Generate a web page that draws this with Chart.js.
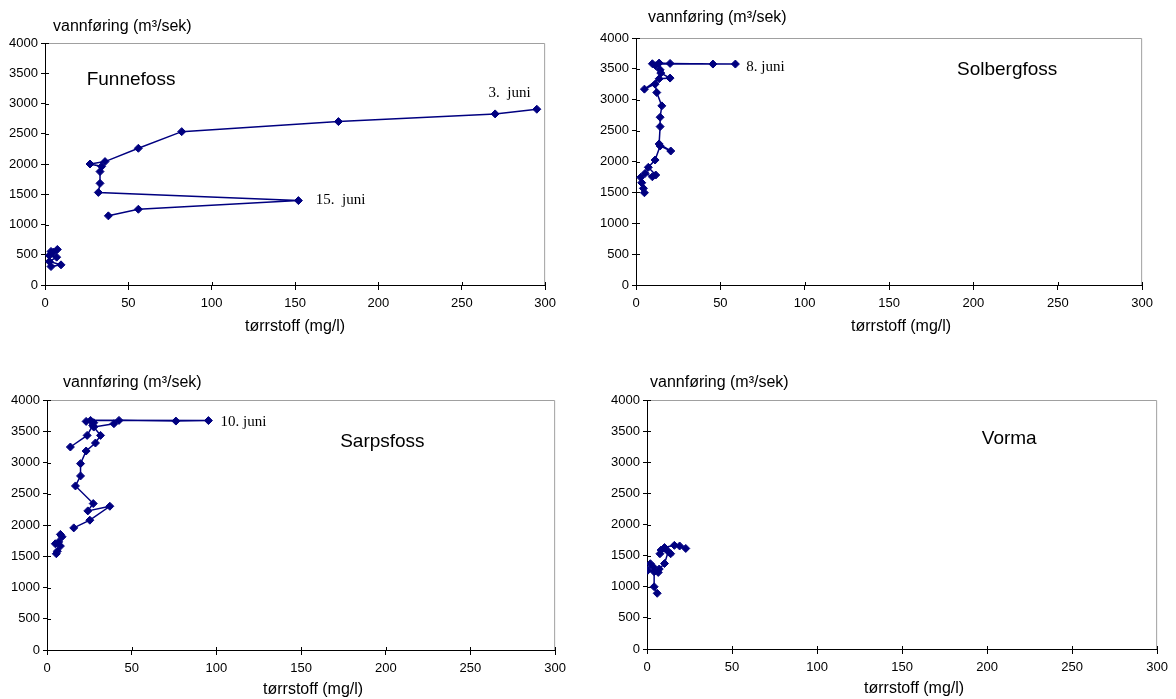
<!DOCTYPE html>
<html><head><meta charset="utf-8">
<script src="https://cdn.jsdelivr.net/npm/chart.js@4.4.1/dist/chart.umd.min.js"></script>
<style>
html,body{margin:0;padding:0;background:#fff;overflow:hidden;width:1176px;height:699px;}
canvas{position:absolute;}
</style></head><body>
<canvas id="c1"></canvas><canvas id="c2"></canvas><canvas id="c3"></canvas><canvas id="c4"></canvas>
<script>
// ---- tick labels / titles ----
const xTickValues = [0, 50, 100, 150, 200, 250, 300];
const yTickValues = [0, 500, 1000, 1500, 2000, 2500, 3000, 3500, 4000];
const xAxisTitle = 'tørrstoff (mg/l)';
const yAxisTitle = 'vannføring (m³/sek)';

// ---- Funnefoss ----
const funnefossX = [295, 270, 176, 82, 56, 36, 27, 34, 33, 33, 32, 152, 56, 38];
const funnefossY = [2905, 2828, 2701, 2535, 2260, 2040, 2000, 1960, 1875, 1680, 1530, 1395, 1252, 1143];
const funnefossLowX = [7.4, 3.6, 5, 2.6, 7, 2.6, 9.6, 3.6];
const funnefossLowY = [588, 555, 543, 488, 460, 388, 333, 305];

// ---- Solbergfoss ----
const solbergX = [5, 4.4, 3.4, 2.8, 5.4, 9.7, 11.7, 7.3, 11.3, 14.3, 20.6, 13.7, 14.3, 14.3, 15.3, 12.3, 11.3, 5, 13.7, 20.2, 14.7, 14.3, 13.7, 20.2, 45.6, 58.9, 9.7, 11.7];
const solbergY = [1494, 1565, 1656, 1743, 1808, 1753, 1781, 1906, 2024, 2252, 2170, 2284, 2565, 2717, 2901, 3117, 3253, 3172, 3339, 3351, 3432, 3485, 3594, 3588, 3578, 3578, 3583, 3550];

// ---- Sarpsfoss ----
const sarpsX = [15.8, 25.3, 37.1, 24.1, 27.3, 16.8, 19.8, 19.8, 23.1, 28.6, 31.6, 27.6, 39.5, 42.5, 76.1, 95.3, 25.7, 23.1, 27.6, 27, 23.7, 13.8];
const sarpsY = [1954, 2077, 2300, 2226, 2343, 2625, 2785, 2982, 3184, 3312, 3434, 3567, 3621, 3674, 3663, 3671, 3674, 3658, 3637, 3594, 3434, 3248];
const sarpsLowX = [5.5, 6.1, 7.9, 4.9, 6.9, 8.9, 7.9];
const sarpsLowY = [1540, 1580, 1663, 1700, 1730, 1812, 1850];

// ---- Vorma ----
const vormaX = [6, 4.2, 4.2, 0.5, 2, 3.6, 6.6, 7.2, 10.3, 12.5, 13.9, 8.3, 7.6, 10.3, 16.1, 19.2, 22.8];
const vormaY = [895, 1000, 1240, 1265, 1370, 1320, 1230, 1285, 1373, 1565, 1530, 1590, 1530, 1630, 1665, 1655, 1615];

const NAVY = '#000080';
const SANS = "'Liberation Sans', Arial, sans-serif";
const SERIF = "'Liberation Serif', 'Times New Roman', serif";
const ML = 45, MT = 36, MR = 15, MB = 56;

function pts(xs, ys) { return xs.map((x, i) => ({x: x, y: ys[i]})); }
function ds(xs, ys) {
  return {data: pts(xs, ys), showLine: true, borderColor: NAVY, backgroundColor: NAVY,
    borderWidth: 1.5, pointStyle: 'rectRot', pointRadius: 4, pointBorderWidth: 1,
    pointBorderColor: NAVY, pointBackgroundColor: NAVY, tension: 0};
}

const framePlugin = {
  id: 'frame',
  beforeDatasetsDraw(chart) {
    const a = chart.chartArea, c = chart.ctx;
    c.save();
    c.strokeStyle = '#a0a0a0'; c.lineWidth = 1;
    c.beginPath();
    c.moveTo(a.left, a.top + 0.5); c.lineTo(a.right - 0.5, a.top + 0.5); c.lineTo(a.right - 0.5, a.bottom);
    c.stroke();
    // inner tick marks
    c.strokeStyle = '#000';
    c.beginPath();
    const xs = chart.scales.x, ys = chart.scales.y;
    xTickValues.forEach(v => { const p = Math.round(xs.getPixelForValue(v)) + 0.5; c.moveTo(p, a.bottom); c.lineTo(p, a.bottom - 3); });
    yTickValues.forEach(v => { const p = Math.round(ys.getPixelForValue(v)) + 0.5; c.moveTo(a.left, p); c.lineTo(a.left + 4, p); });
    c.stroke();
    c.restore();
  },
  afterDraw(chart) {
    const o = chart.options.plugins.frame || {};
    const a = chart.chartArea, c = chart.ctx;
    const xs = chart.scales.x, ys = chart.scales.y;
    c.save();
    c.fillStyle = '#000';
    c.textBaseline = 'middle';
    c.font = '16px ' + SANS;
    c.textAlign = 'left';
    c.fillText(yAxisTitle, a.left + o.ytDx, a.top + o.ytDy);
    c.textAlign = 'center';
    c.fillText(xAxisTitle, (a.left + a.right) / 2 + o.xtDx, a.bottom + o.xtDy);
    (o.labels || []).forEach(l => {
      c.font = l.font;
      c.textAlign = l.align;
      c.fillText(l.text, xs.getPixelForValue(l.x), ys.getPixelForValue(l.y));
    });
    c.restore();
  }
};

function makeChart(id, plot, datasets, frameOpts) {
  const cv = document.getElementById(id);
  const w = plot.w + ML + MR, h = plot.h + MT + MB;
  cv.width = w; cv.height = h;
  cv.style.left = (plot.left - ML) + 'px';
  cv.style.top = (plot.top - MT) + 'px';
  cv.style.width = w + 'px'; cv.style.height = h + 'px';
  return new Chart(cv, {
    type: 'scatter',
    data: {datasets: datasets},
    plugins: [framePlugin],
    options: {
      responsive: false, animation: false, devicePixelRatio: 1,
      layout: {padding: {top: MT, right: MR, left: 0, bottom: 0}},
      plugins: {legend: {display: false}, tooltip: {enabled: false}, frame: frameOpts},
      scales: {
        x: {type: 'linear', min: 0, max: 300,
          afterFit(s) { s.height = MB; },
          afterBuildTicks(s) { s.ticks = xTickValues.map(v => ({value: v})); },
          ticks: {color: '#000', font: {family: SANS, size: 13}, padding: 6, maxRotation: 0,
            callback: v => String(v)},
          grid: {drawOnChartArea: false, drawTicks: true, tickLength: 5, color: '#000'},
          border: {color: '#000', width: 1}},
        y: {type: 'linear', min: 0, max: 4000,
          afterFit(s) { s.width = ML; },
          afterBuildTicks(s) { s.ticks = yTickValues.map(v => ({value: v})); },
          ticks: {color: '#000', font: {family: SANS, size: 13}, padding: 3,
            callback: v => String(v)},
          grid: {drawOnChartArea: false, drawTicks: true, tickLength: 4, color: '#000'},
          border: {color: '#000', width: 1}}
      }
    }
  });
}

const F18 = '19px ' + SANS, T15 = '15px ' + SERIF;

makeChart('c1', {left: 45, top: 43, w: 502, h: 242},
  [ds(funnefossX, funnefossY), ds(funnefossLowX, funnefossLowY)],
  {ytDx: 8, ytDy: -16, xtDx: 0, xtDy: 42, labels: [
    {text: 'Funnefoss', x: 25, y: 3390, font: F18, align: 'left'},
    {text: '3.  juni', x: 266, y: 3170, font: T15, align: 'left'},
    {text: '15.  juni', x: 162.4, y: 1410, font: T15, align: 'left'}]});

makeChart('c2', {left: 636, top: 38, w: 508, h: 247},
  [ds(solbergX, solbergY)],
  {ytDx: 12, ytDy: -20, xtDx: 12, xtDy: 42, labels: [
    {text: 'Solbergfoss', x: 220, y: 3486, font: F18, align: 'center'},
    {text: '8. juni', x: 65.4, y: 3530, font: T15, align: 'left'}]});

makeChart('c3', {left: 47, top: 400, w: 510, h: 250},
  [ds(sarpsX, sarpsY), ds(sarpsLowX, sarpsLowY)],
  {ytDx: 16, ytDy: -17, xtDx: 12, xtDy: 40, labels: [
    {text: 'Sarpsfoss', x: 198, y: 3330, font: F18, align: 'center'},
    {text: '10. juni', x: 102.5, y: 3655, font: T15, align: 'left'}]});

makeChart('c4', {left: 647, top: 400, w: 512, h: 249},
  [ds(vormaX, vormaY)],
  {ytDx: 3, ytDy: -17, xtDx: 12, xtDy: 40, labels: [
    {text: 'Vorma', x: 213, y: 3376, font: F18, align: 'center'}]});
</script>
</body></html>
